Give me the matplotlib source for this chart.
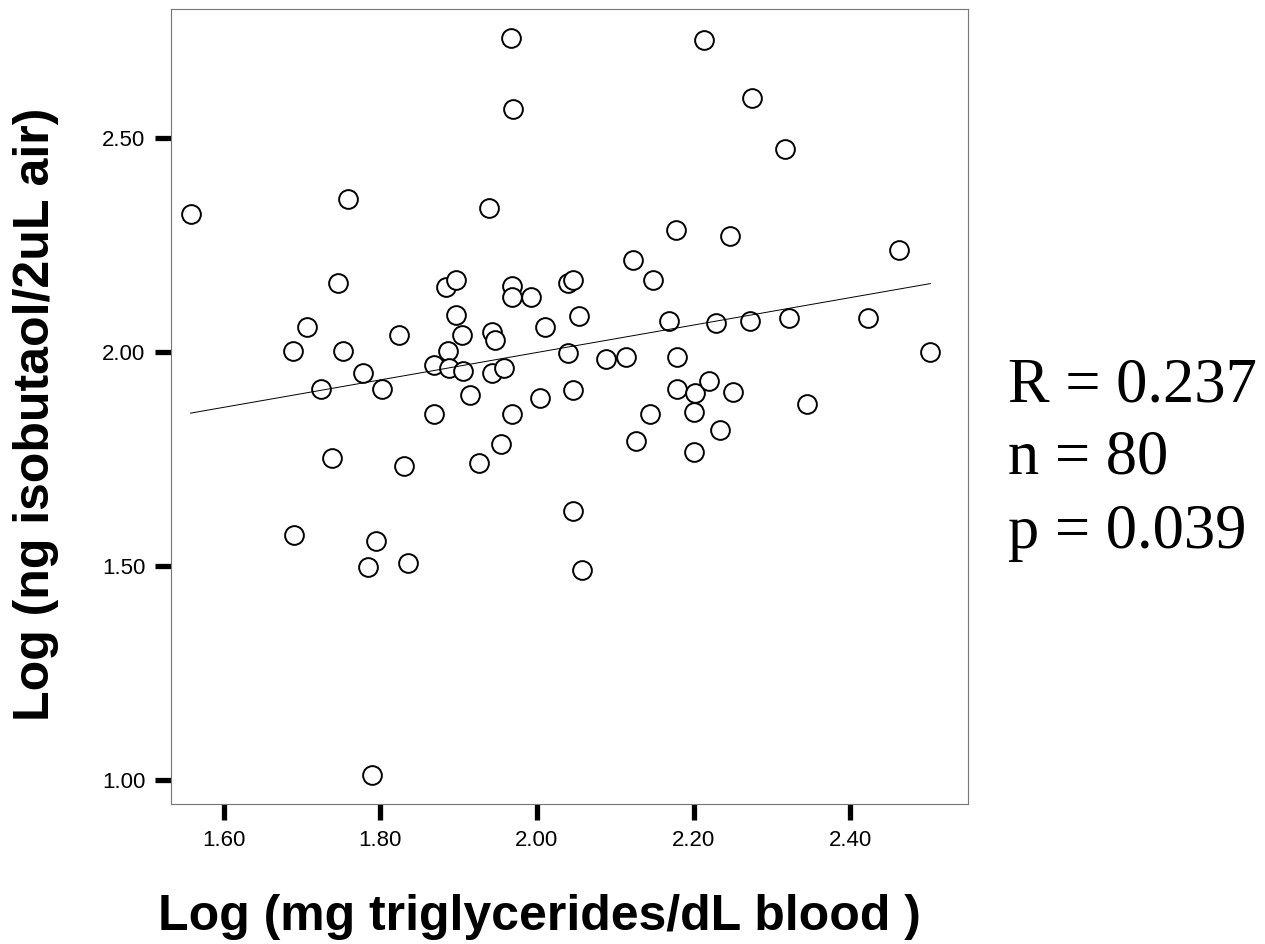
import matplotlib
matplotlib.use("Agg")
import matplotlib.pyplot as plt
import numpy as np

# Log triglycerides (x) vs log isobutanol in breath (y)
log_trig = [1.967, 1.970, 1.558, 1.759, 1.939, 1.746, 1.884, 1.897, 1.968, 1.968,
            1.992, 1.707, 1.897, 1.824, 1.904, 1.943, 1.946, 2.010, 1.689, 1.753,
            1.887, 1.778, 1.869, 1.888, 1.905, 1.943, 1.958, 1.724, 1.802, 1.915,
            2.004, 1.869, 1.968, 1.739, 1.830, 1.926, 1.954, 1.690, 1.795, 1.785,
            1.835, 1.790, 2.213, 2.274, 2.316, 2.178, 2.246, 2.462, 2.123, 2.148,
            2.039, 2.046, 2.053, 2.169, 2.229, 2.272, 2.321, 2.423, 2.502, 2.039,
            2.088, 2.113, 2.179, 2.046, 2.179, 2.202, 2.219, 2.250, 2.345, 2.144,
            2.201, 2.126, 2.233, 2.201, 2.046, 2.057]
log_isobut = [2.733, 2.566, 2.322, 2.356, 2.335, 2.161, 2.150, 2.167, 2.154, 2.128,
              2.128, 2.058, 2.086, 2.040, 2.039, 2.045, 2.027, 2.058, 2.002, 2.002,
              2.002, 1.950, 1.969, 1.961, 1.956, 1.951, 1.961, 1.912, 1.912, 1.899,
              1.893, 1.854, 1.854, 1.752, 1.733, 1.739, 1.784, 1.572, 1.559, 1.498,
              1.506, 1.011, 2.728, 2.592, 2.473, 2.284, 2.270, 2.237, 2.214, 2.167,
              2.161, 2.167, 2.084, 2.072, 2.066, 2.072, 2.078, 2.078, 2.000, 1.996,
              1.983, 1.988, 1.988, 1.911, 1.912, 1.904, 1.932, 1.905, 1.879, 1.854,
              1.860, 1.791, 1.817, 1.765, 1.629, 1.490]

stats = ["R = 0.237", "n = 80", "p = 0.039"]
xticks = [1.60, 1.80, 2.00, 2.20, 2.40]
yticks = [1.00, 1.50, 2.00, 2.50]

x = np.array(log_trig)
y = np.array(log_isobut)

fig = plt.figure(figsize=(12.65, 9.44), dpi=100)
ax = fig.add_axes([171/1265, 1 - 804/944, 797/1265, 795/944])

ax.plot(x, y, 'o', mfc='white', mec='black', ms=13.5, mew=1.4, ls='none')

# least squares line over the data range
b, a = np.polyfit(x, y, 1)
xx = np.array([x.min(), x.max()])
ax.plot(xx, a + b * xx, color='black', lw=0.7)

ax.set_xlim(1.533, 2.550)
ax.set_ylim(0.944, 2.800)
ax.set_xticks(xticks)
ax.set_yticks(yticks)
ax.set_xticklabels(['%.2f' % t for t in xticks], family='Liberation Sans', fontsize=16)
ax.set_yticklabels(['%.2f' % t for t in yticks], family='Liberation Sans', fontsize=16)
ax.tick_params(direction='out', length=11.5, width=3.8, pad=7, color='black')

for s in ax.spines.values():
    s.set_color('#777777')
    s.set_linewidth(0.8)
    s.set_linestyle((0, (1, 0.6)))

fig.text(539/1265, 1 - 930/944, 'Log (mg triglycerides/dL blood )',
         family='Liberation Sans', weight='bold', fontsize=36, ha='center', va='baseline')
fig.text(36/1265, 1 - 414/944, 'Log (ng isobutaol/2uL air)',
         family='Liberation Sans', weight='bold', fontsize=36, ha='center', va='center',
         rotation=90)

for s, yb in zip(stats, [402, 473, 548]):
    fig.text(1008/1265, 1 - yb/944, s, family='Liberation Serif', fontsize=45,
             ha='left', va='baseline')

fig.savefig('out.png', dpi=100)
